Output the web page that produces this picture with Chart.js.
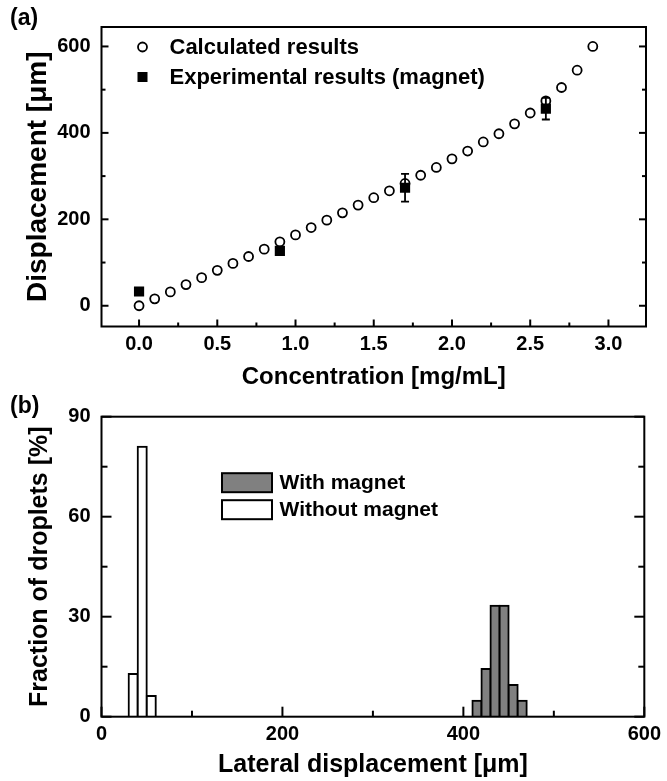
<!DOCTYPE html>
<html>
<head>
<meta charset="utf-8">
<script src="https://cdn.jsdelivr.net/npm/chart.js@4.4.1/dist/chart.umd.min.js"></script>
<style>
  html, body { margin: 0; padding: 0; background: #fff; }
  #wrap { position: relative; width: 667px; height: 781px; }
  canvas { position: absolute; left: 0; }
  #chartA { top: 0; }
  #chartB { top: 390px; }
  .tag { position: absolute; left: 10px; font: bold 23px "Liberation Sans", Arial, sans-serif; line-height: 24px; color: #000; }
</style>
</head>
<body>
<div id="wrap">
  <canvas id="chartA" width="667" height="390"></canvas>
  <canvas id="chartB" width="667" height="391"></canvas>
  <div class="tag" style="top:5px">(a)</div>
  <div class="tag" style="top:393px">(b)</div>
</div>
<script>
const FONT = '"Liberation Sans", Arial, sans-serif';

// (a) displacement vs concentration
const calcX = [0.0, 0.1, 0.2, 0.3, 0.4, 0.5, 0.6, 0.7, 0.8, 0.9,
               1.0, 1.1, 1.2, 1.3, 1.4, 1.5, 1.6, 1.7, 1.8, 1.9,
               2.0, 2.1, 2.2, 2.3, 2.4, 2.5, 2.6, 2.7, 2.8, 2.9];
const calcY = [0, 16, 32, 49, 65, 82, 98, 114, 131, 148,
               164, 181, 198, 215, 233, 250, 266, 283, 302, 320,
               340, 358, 379, 398, 421, 446, 474, 505, 545, 600];
const expX = [0.0, 0.9, 1.7, 2.6];
const expY = [33, 127, 273, 456];
const expErr = [0, 0, 32, 25];
const concTicks = [0, 0.5, 1.0, 1.5, 2.0, 2.5, 3.0];
const concMinor = [0.25, 0.75, 1.25, 1.75, 2.25, 2.75];
const dispTicks = [0, 200, 400, 600];
const dispMinor = [100, 300, 500];

// (b) histogram of lateral displacement
const withX = [415, 425, 435, 445, 455, 465];
const withY = [4.8, 14.3, 33.3, 33.3, 9.5, 4.8];
const withoutX = [35, 45, 55];
const withoutY = [12.8, 81, 6.2];
const latTicks = [0, 200, 400, 600];
const latMinor = [100, 300, 500];
const fracTicks = [0, 30, 60, 90];
const fracMinor = [15, 45, 75];

const tickFont = { family: FONT, size: 20, weight: 'bold' };
const titleFont = size => ({ family: FONT, size: size, weight: 'bold', lineHeight: 1 });

function fixTicks(list) {
    return scale => { scale.ticks = list.map(v => ({ value: v })); };
}

// box around the plot with inward ticks on bottom, left and right
const framePlugin = {
    id: 'frame',
    afterDatasetsDraw(chart, args, o) {
        const { ctx, chartArea: a } = chart;
        const xs = chart.scales.x, ys = chart.scales.y;
        ctx.save();
        ctx.strokeStyle = '#000';
        ctx.lineWidth = 2;
        const line = (x1, y1, x2, y2) => {
            ctx.beginPath(); ctx.moveTo(x1, y1); ctx.lineTo(x2, y2); ctx.stroke();
        };
        o.xMajor.forEach(v => { const p = xs.getPixelForValue(v); line(p, a.bottom, p, a.bottom - o.major); });
        o.xMinor.forEach(v => { const p = xs.getPixelForValue(v); line(p, a.bottom, p, a.bottom - o.minor); });
        o.yMajor.forEach(v => {
            const p = ys.getPixelForValue(v);
            line(a.left, p, a.left + o.major, p);
            line(a.right, p, a.right - o.major, p);
        });
        o.yMinor.forEach(v => {
            const p = ys.getPixelForValue(v);
            line(a.left, p, a.left + o.minor, p);
            line(a.right, p, a.right - o.minor, p);
        });
        ctx.strokeRect(a.left, a.top, a.right - a.left, a.bottom - a.top);
        ctx.restore();
    }
};

const errorBarPlugin = {
    id: 'errbars',
    afterDatasetsDraw(chart) {
        const { ctx } = chart;
        const xs = chart.scales.x, ys = chart.scales.y;
        chart.data.datasets.forEach(ds => {
            if (!ds.errors) return;
            ctx.save();
            ctx.strokeStyle = '#000';
            ctx.lineWidth = 1.8;
            ds.data.forEach((pt, i) => {
                const e = ds.errors[i];
                if (!e) return;
                const x = xs.getPixelForValue(pt.x);
                const top = ys.getPixelForValue(pt.y + e);
                const bot = ys.getPixelForValue(pt.y - e);
                ctx.beginPath();
                ctx.moveTo(x, top); ctx.lineTo(x, bot);
                ctx.moveTo(x - 4, top); ctx.lineTo(x + 4, top);
                ctx.moveTo(x - 4, bot); ctx.lineTo(x + 4, bot);
                ctx.stroke();
            });
            ctx.restore();
        });
    }
};

// legend drawn inside the plot area
const keyPlugin = {
    id: 'key',
    afterDraw(chart, args, o) {
        const { ctx, chartArea: a } = chart;
        ctx.save();
        ctx.font = 'bold ' + o.size + 'px ' + FONT;
        ctx.textBaseline = 'middle';
        chart.data.datasets.forEach((ds, i) => {
            const x = a.left + o.left;
            const y = a.top + o.top + i * o.step;
            if (o.kind === 'box') {
                ctx.fillStyle = ds.backgroundColor;
                ctx.fillRect(x, y - o.boxH / 2, o.boxW, o.boxH);
                ctx.strokeStyle = '#000';
                ctx.lineWidth = 2;
                ctx.strokeRect(x, y - o.boxH / 2, o.boxW, o.boxH);
            } else if (ds.pointStyle === 'rect') {
                ctx.fillStyle = ds.pointBackgroundColor;
                ctx.fillRect(x - 5, y - 5, 10, 10);
            } else {
                ctx.beginPath();
                ctx.arc(x, y, ds.pointRadius, 0, Math.PI * 2);
                ctx.fillStyle = ds.pointBackgroundColor;
                ctx.fill();
                ctx.lineWidth = ds.pointBorderWidth;
                ctx.strokeStyle = ds.pointBorderColor;
                ctx.stroke();
            }
            ctx.fillStyle = '#000';
            ctx.fillText(ds.label, a.left + o.textLeft, y + 1);
        });
        ctx.restore();
    }
};

new Chart(document.getElementById('chartA'), {
    type: 'scatter',
    data: {
        datasets: [
            {
                label: 'Calculated results',
                data: calcX.map((x, i) => ({ x: x, y: calcY[i] })),
                pointStyle: 'circle',
                pointRadius: 4.5,
                pointBorderWidth: 1.8,
                pointBorderColor: '#000',
                pointBackgroundColor: '#fff',
                order: 1
            },
            {
                label: 'Experimental results (magnet)',
                data: expX.map((x, i) => ({ x: x, y: expY[i] })),
                errors: expErr,
                pointStyle: 'rect',
                pointRadius: 7.2,
                pointBorderWidth: 0,
                pointBorderColor: '#000',
                pointBackgroundColor: '#000',
                order: 0
            }
        ]
    },
    options: {
        responsive: false,
        animation: false,
        layout: { padding: { top: 27, right: 21, left: 0, bottom: 0 } },
        scales: {
            x: {
                type: 'linear',
                min: -0.24,
                max: 3.24,
                grid: { display: false, drawTicks: false },
                border: { display: false },
                afterBuildTicks: fixTicks(concTicks),
                afterFit: s => { s.height = 63.5; },
                ticks: { font: tickFont, color: '#000', padding: 6, maxRotation: 0, autoSkip: false,
                         callback: v => v.toFixed(1) },
                title: { display: true, text: 'Concentration [mg/mL]', font: titleFont(24), color: '#000',
                         padding: { top: 0, bottom: 1 } }
            },
            y: {
                min: -48,
                max: 645,
                grid: { display: false, drawTicks: false },
                border: { display: false },
                afterBuildTicks: fixTicks(dispTicks),
                afterFit: s => { s.width = 101.5; },
                ticks: { font: tickFont, color: '#000', padding: 11 },
                title: { display: true, text: 'Displacement [\u03bcm]', font: titleFont(28), color: '#000',
                         padding: { top: 24, bottom: 0 } }
            }
        },
        plugins: {
            legend: { display: false },
            tooltip: { enabled: false },
            frame: { xMajor: concTicks, xMinor: concMinor, yMajor: dispTicks, yMinor: dispMinor, major: 7, minor: 4 },
            key: { kind: 'point', left: 41, top: 20, step: 30, textLeft: 68, size: 22 }
        }
    },
    plugins: [errorBarPlugin, framePlugin, keyPlugin]
});

new Chart(document.getElementById('chartB'), {
    type: 'bar',
    data: {
        datasets: [
            {
                label: 'With magnet',
                data: withX.map((x, i) => ({ x: x, y: withY[i] })),
                backgroundColor: '#808080',
                borderColor: '#000',
                borderWidth: 2,
                inflateAmount: 1
            },
            {
                label: 'Without magnet',
                data: withoutX.map((x, i) => ({ x: x, y: withoutY[i] })),
                backgroundColor: '#fff',
                borderColor: '#000',
                borderWidth: 2,
                inflateAmount: 1
            }
        ]
    },
    options: {
        responsive: false,
        animation: false,
        grouped: false,
        barPercentage: 1,
        categoryPercentage: 1,
        layout: { padding: { top: 26.7, right: 21, left: 0, bottom: 0 } },
        scales: {
            x: {
                type: 'linear',
                min: 0,
                max: 600,
                offset: false,
                grid: { display: false, drawTicks: false, offset: false },
                border: { display: false },
                afterBuildTicks: fixTicks(latTicks),
                afterFit: s => { s.height = 64.3; },
                ticks: { font: tickFont, color: '#000', padding: 6, maxRotation: 0, autoSkip: false },
                title: { display: true, text: 'Lateral displacement [\u03bcm]', font: titleFont(25), color: '#000',
                         padding: { top: 0, bottom: 3 } }
            },
            y: {
                min: 0,
                max: 90,
                grid: { display: false, drawTicks: false },
                border: { display: false },
                afterBuildTicks: fixTicks(fracTicks),
                afterFit: s => { s.width = 101.5; },
                ticks: { font: tickFont, color: '#000', padding: 11 },
                title: { display: true, text: 'Fraction of droplets [%]', font: titleFont(25), color: '#000',
                         padding: { top: 28, bottom: 0 } }
            }
        },
        plugins: {
            legend: { display: false },
            tooltip: { enabled: false },
            frame: { xMajor: latTicks, xMinor: latMinor, yMajor: fracTicks, yMinor: fracMinor, major: 10, minor: 6 },
            key: { kind: 'box', left: 120.5, top: 66, step: 27, boxW: 50, boxH: 19, textLeft: 178, size: 21 }
        }
    },
    plugins: [framePlugin, keyPlugin]
});
</script>
</body>
</html>
